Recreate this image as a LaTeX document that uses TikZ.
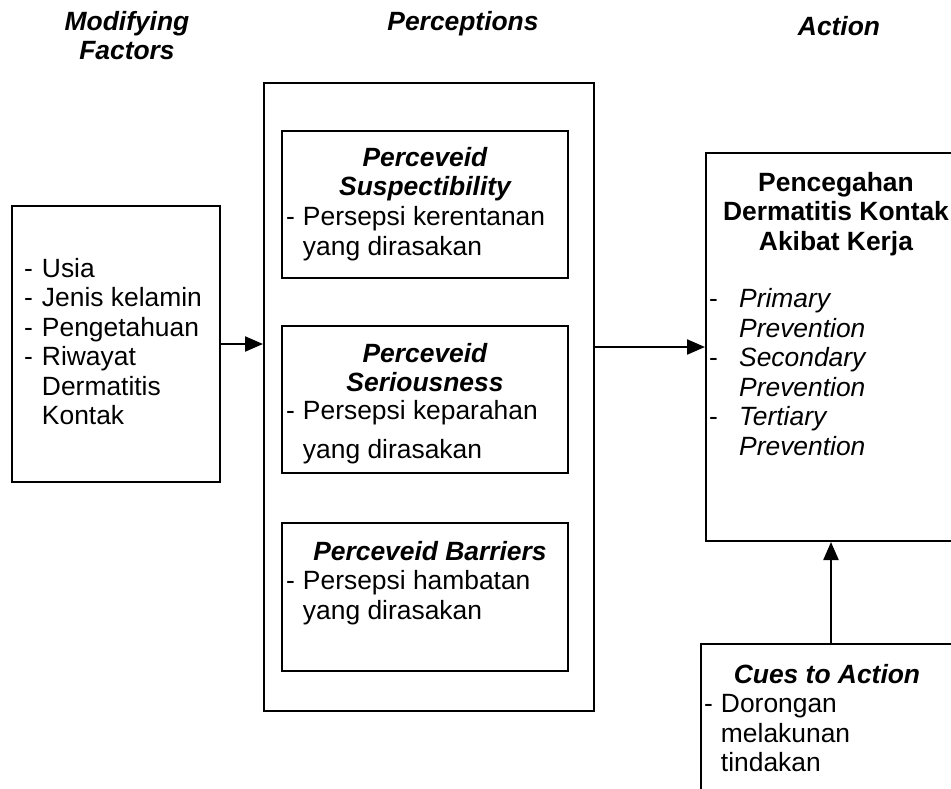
\documentclass[tikz,border=0pt]{standalone}
\usepackage{fontspec}
\setmainfont{Liberation Sans}
\usepackage{tikz}
\usetikzlibrary{calc, arrows.meta}
\newcommand{\diagfont}{\fontsize{26.4}{29.5}\selectfont}
\tikzstyle{box} = [draw=black, line width=2pt, inner sep=0pt, rectangle]
\tikzstyle{heading} = [font=\diagfont\bfseries\itshape, align=center, anchor=north, inner sep=0pt]
\tikzstyle{boldtitle} = [font=\diagfont\bfseries, align=center, anchor=north, inner sep=0pt]
\tikzstyle{boxlist} = [anchor=north west, inner sep=0pt]
\tikzstyle{edge} = [black, line width=2.2pt, -{Triangle[length=18pt,width=15pt]}]

\begin{document}
\begin{tikzpicture}[x=1pt, y=-1pt, every node/.style={font=\diagfont}]
\useasboundingbox (0,0) rectangle (951,789);

% column headings
\node[heading] (hmod) at (127,11) {Modifying\\Factors};
\node[heading] (hper) at (463,11) {Perceptions};
\node[heading] (hact) at (839,16) {Action};

% boxes
\node[box, minimum width=208pt, minimum height=276pt] (fac) at (116,344) {};
\node[box, minimum width=330pt, minimum height=628pt] (per) at (429,397) {};
\node[box, minimum width=286pt, minimum height=147pt] (sus) at (425,204.5) {};
\node[box, minimum width=286pt, minimum height=147pt] (ser) at (425,399.5) {};
\node[box, minimum width=286pt, minimum height=148pt] (bar) at (425,597) {};
\node[box, minimum width=264pt, minimum height=388pt] (act) at (838,347) {};
\node[box, minimum width=260pt, minimum height=186pt] (cue) at (831,737) {};

% box texts
\node[anchor=west, inner sep=0pt] (factxt) at (24,345) {\begin{tabular}{@{}l@{\hspace{9pt}}l@{}}
  - & Usia\\ - & Jenis kelamin\\ - & Pengetahuan\\ - & Riwayat\\ & Dermatitis\\ & Kontak
  \end{tabular}};

\node[heading] (sustitle) at (425,147) {Perceveid\\Suspectibility};
\node[boxlist] (sustxt) at (286,205) {\begin{tabular}{@{}l@{\hspace{8pt}}l@{}}
  - & Persepsi kerentanan\\ & yang dirasakan\end{tabular}};

\node[heading] (sertitle) at (425,343) {Perceveid\\Seriousness};
\node[boxlist] (sertxt) at (286,399) {\begin{tabular}{@{}l@{\hspace{8pt}}l@{}}
  - & Persepsi keparahan\\[9pt] & yang dirasakan\end{tabular}};

\node[heading] (bartitle) at (430,541.5) {Perceveid Barriers};
\node[boxlist] (bartxt) at (286,569) {\begin{tabular}{@{}l@{\hspace{8pt}}l@{}}
  - & Persepsi hambatan\\ & yang dirasakan\end{tabular}};

\node[boldtitle] (acttitle) at (836,172) {Pencegahan\\Dermatitis Kontak\\Akibat Kerja};
\node[boxlist] (acttxt) at (709,287) {\begin{tabular}{@{}p{30pt}@{}l@{}}
  - & \textit{Primary}\\ & \textit{Prevention}\\
  - & \textit{Secondary}\\ & \textit{Prevention}\\
  - & \textit{Tertiary}\\ & \textit{Prevention}\end{tabular}};

\node[heading] (cuetitle) at (827,664) {Cues to Action};
\node[boxlist] (cuetxt) at (704,692) {\begin{tabular}{@{}l@{\hspace{8pt}}l@{}}
  - & Dorongan\\ & melakunan\\ & tindakan\end{tabular}};

% arrows
\draw[edge] (fac.east) to (fac.east -| per.west);
\draw[edge] (act.west -| per.east) to (act.west);
\draw[edge] (cue.north) to (cue.north |- act.south);

\end{tikzpicture}
\end{document}
